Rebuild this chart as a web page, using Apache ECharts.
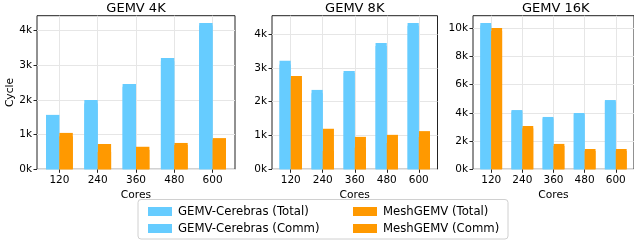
<!DOCTYPE html>
<html>
<head>
    <meta charset="UTF-8">
    <title>GEMV cycles</title>
    <script src="https://cdn.jsdelivr.net/npm/echarts@6/dist/echarts.min.js"></script>
    <style>
        html, body { margin: 0; padding: 0; background: #fff; }
        #main { width: 634px; height: 241px; }
    </style>
</head>
<body>
<div id="main"></div>
<script type="text/javascript">
    // categories and values
    var cores = ['120', '240', '360', '480', '600'];
    var titles = ['GEMV 4K', 'GEMV 8K', 'GEMV 16K'];

    var cerebrasTotal4k = [1570, 2000, 2460, 3210, 4220];
    var cerebrasComm4k = [910, 1900, 2380, 3120, 4150];
    var meshTotal4k = [1050, 730, 650, 760, 900];
    var meshComm4k = [950, 500, 560, 700, 850];

    var cerebrasTotal8k = [3210, 2350, 2910, 3740, 4330];
    var cerebrasComm8k = [3100, 2250, 2850, 3650, 4250];
    var meshTotal8k = [2760, 1200, 960, 1020, 1130];
    var meshComm8k = [2650, 540, 640, 780, 960];

    var cerebrasTotal16k = [10370, 4200, 3710, 3990, 4910];
    var cerebrasComm16k = [10200, 4100, 3600, 3900, 4800];
    var meshTotal16k = [10020, 3070, 1800, 1440, 1440];
    var meshComm16k = [9800, 2900, 1650, 1300, 1300];

    var yTicks4k = [0, 1000, 2000, 3000, 4000];
    var yTicks8k = [0, 1000, 2000, 3000, 4000];
    var yTicks16k = [0, 2000, 4000, 6000, 8000, 10000];

    var BLUE = '#66ccff';
    var ORANGE = '#ff9900';
    var FONT = 'DejaVu Sans';

    var panels = [
        {title: titles[0], ct: cerebrasTotal4k, cc: cerebrasComm4k, mt: meshTotal4k, mc: meshComm4k, ticks: yTicks4k, left: 37, width: 198},
        {title: titles[1], ct: cerebrasTotal8k, cc: cerebrasComm8k, mt: meshTotal8k, mc: meshComm8k, ticks: yTicks8k, left: 272, width: 165.5},
        {title: titles[2], ct: cerebrasTotal16k, cc: cerebrasComm16k, mt: meshTotal16k, mc: meshComm16k, ticks: yTicks16k, left: 473, width: 165.5}
    ];

    var xIdx = [0, 1, 2, 3, 4];

    function pairs(arr) {
        return arr.map(function (v, i) { return [i, v]; });
    }

    var grid = [], xAxis = [], yAxis = [], series = [], graphic = [];

    panels.forEach(function (p, g) {
        var ymax = Math.max.apply(null, p.ct.concat(p.mt)) * 1.05;
        var step = p.ticks[1] - p.ticks[0];

        grid.push({
            left: p.left, top: 15.7, width: p.width, height: 153.6,
            show: true, borderColor: '#222', borderWidth: 1,
            backgroundColor: 'transparent'
        });

        xAxis.push({
            type: 'value', gridIndex: g, min: -0.585, max: 4.585,
            minInterval: 1, maxInterval: 1,
            name: 'Cores', nameLocation: 'middle', nameGap: 14,
            nameTextStyle: {fontFamily: FONT, fontSize: 10.7, color: '#000'},
            axisLine: {show: false, onZero: false},
            axisTick: {show: true, length: 3.5, lineStyle: {color: '#222'}, customValues: xIdx},
            axisLabel: {
                fontFamily: FONT, fontSize: 10.5, color: '#000', margin: 5,
                customValues: xIdx,
                formatter: function (v) { return Number.isInteger(v) ? cores[v] : ''; }
            },
            splitLine: {show: true, lineStyle: {color: '#e6e6e6', width: 1}}
        });
        xAxis.push({
            type: 'value', gridIndex: g, min: -0.585, max: 4.585, show: false,
            axisLine: {onZero: false}
        });

        yAxis.push({
            type: 'value', gridIndex: g, min: 0, max: ymax, interval: step,
            name: g === 0 ? 'Cycle' : '', nameLocation: 'middle', nameGap: 16,
            nameTextStyle: {fontFamily: FONT, fontSize: 10.7, color: '#000'},
            axisLine: {show: false, onZero: false},
            axisTick: {show: true, length: 3.5, lineStyle: {color: '#222'}, customValues: p.ticks},
            axisLabel: {
                fontFamily: FONT, fontSize: 10.5, color: '#000', margin: 5,
                customValues: p.ticks,
                formatter: function (v) { return v % step === 0 ? (v / 1000) + 'k' : ''; }
            },
            splitLine: {show: true, lineStyle: {color: '#e6e6e6', width: 1}}
        });

        var common = {type: 'bar', barWidth: '35%', barGap: 0, yAxisIndex: g};
        series.push(Object.assign({name: 'GEMV-Cerebras (Total)', xAxisIndex: 2 * g, data: pairs(p.ct), itemStyle: {color: BLUE}}, common));
        series.push(Object.assign({name: 'MeshGEMV (Total)', xAxisIndex: 2 * g, data: pairs(p.mt), itemStyle: {color: ORANGE}}, common));
        series.push(Object.assign({name: 'GEMV-Cerebras (Comm)', xAxisIndex: 2 * g + 1, data: pairs(p.cc), itemStyle: {color: BLUE}}, common));
        series.push(Object.assign({name: 'MeshGEMV (Comm)', xAxisIndex: 2 * g + 1, data: pairs(p.mc), itemStyle: {color: ORANGE}}, common));

        graphic.push({
            type: 'text', x: p.left + p.width / 2, y: 8.5,
            style: {text: p.title, font: '13px "DejaVu Sans"', fill: '#000', textAlign: 'center', textVerticalAlign: 'middle'}
        });
    });

    // legend frame
    graphic.push({
        type: 'rect', shape: {x: 138, y: 199.5, width: 370, height: 39.5, r: 3},
        style: {fill: '#fff', stroke: '#d0d0d0', lineWidth: 1}, z: -1
    });

    var legendCommon = {
        orient: 'vertical', top: 200.5, itemWidth: 24, itemHeight: 9, itemGap: 5,
        icon: 'rect',
        textStyle: {fontFamily: FONT, fontSize: 11.7, color: '#000', padding: [0, 0, 0, 1]}
    };

    var myChart = echarts.init(document.getElementById('main'), null, {renderer: 'canvas'});
    myChart.setOption({
        animation: false,
        backgroundColor: '#fff',
        grid: grid,
        xAxis: xAxis,
        yAxis: yAxis,
        series: series,
        graphic: graphic,
        legend: [
            Object.assign({left: 143, data: ['GEMV-Cerebras (Total)', 'GEMV-Cerebras (Comm)']}, legendCommon),
            Object.assign({left: 348, data: ['MeshGEMV (Total)', 'MeshGEMV (Comm)']}, legendCommon)
        ]
    });
</script>
</body>
</html>
